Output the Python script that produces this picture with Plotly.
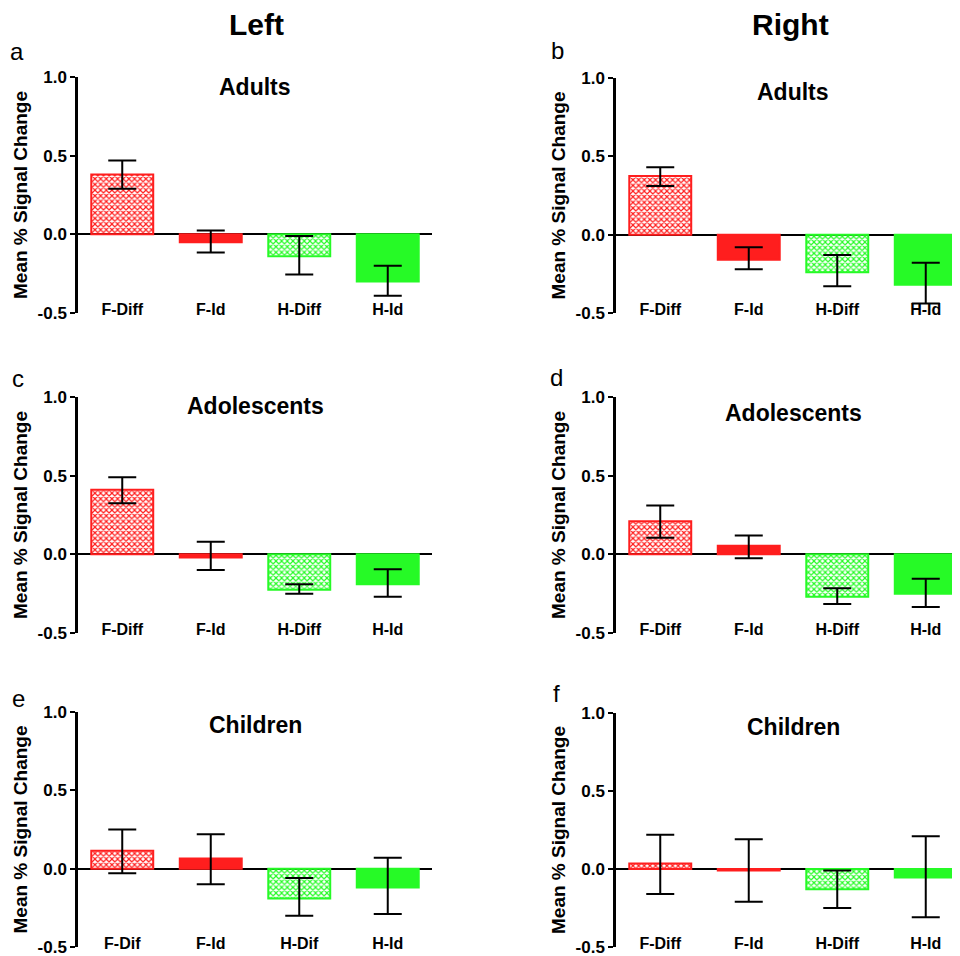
import plotly.graph_objects as go

# the page places the figure 8px in from the top-left corner of the window
OFF = 8
W, H = 960 - OFF, 956 - OFF

cats_std = ["F-Diff", "F-Id", "H-Diff", "H-Id"]
cats_child_left = ["F-Dif", "F-Id", "H-Dif", "H-Id"]

# means, error-bar upper bounds, error-bar lower bounds per panel
a_mean = [0.38, -0.05, -0.14, -0.30]
a_hi = [0.47, 0.025, -0.01, -0.20]
a_lo = [0.29, -0.115, -0.255, -0.39]

b_mean = [0.375, -0.16, -0.24, -0.32]
b_hi = [0.43, -0.08, -0.13, -0.18]
b_lo = [0.31, -0.22, -0.33, -0.44]

c_mean = [0.41, -0.02, -0.225, -0.19]
c_hi = [0.49, 0.08, -0.19, -0.095]
c_lo = [0.325, -0.10, -0.25, -0.27]

d_mean = [0.21, 0.055, -0.27, -0.25]
d_hi = [0.31, 0.12, -0.215, -0.155]
d_lo = [0.105, -0.025, -0.315, -0.335]

e_mean = [0.115, 0.065, -0.19, -0.12]
e_hi = [0.25, 0.22, -0.06, 0.07]
e_lo = [-0.03, -0.10, -0.30, -0.29]

f_mean = [0.035, -0.01, -0.13, -0.055]
f_hi = [0.22, 0.19, -0.01, 0.21]
f_lo = [-0.16, -0.21, -0.25, -0.31]

groups = ["Adults", "Adults", "Adolescents", "Adolescents", "Children", "Children"]
letters = ["a", "b", "c", "d", "e", "f"]
y_ticks = [-0.5, 0.0, 0.5, 1.0]
y_ticklabels = ["-0.5", "0.0", "0.5", "1.0"]

RED = "#ff1e1e"
GREEN = "#26fa26"
bar_colors = [RED, RED, GREEN, GREEN]
bar_shapes = ["x", "", "x", ""]

panels = [
    (cats_std, a_mean, a_hi, a_lo),
    (cats_std, b_mean, b_hi, b_lo),
    (cats_std, c_mean, c_hi, c_lo),
    (cats_std, d_mean, d_hi, d_lo),
    (cats_child_left, e_mean, e_hi, e_lo),
    (cats_std, f_mean, f_hi, f_lo),
]


def fx(px):
    return (px - OFF) / W


def fy(py):
    return 1 - (py - OFF) / H


# window-pixel layout (x0, x1, y_top, y_bottom)
px_boxes = [
    (78, 432, 77, 313),
    (616, 960, 78, 313),
    (78, 432, 397, 633),
    (616, 960, 397, 633),
    (78, 432, 712, 947),
    (616, 960, 713, 947),
]
title_y = [0.935, 0.91, 0.94, 0.90, 0.92, 0.91]
letter_pos = [(17, 52), (557, 51), (18, 379), (556, 377), (18, 698), (556, 693)]
FONT = "Liberation Sans"

fig = go.Figure()
for i, (cats, mean, hi, lo) in enumerate(panels):
    n = "" if i == 0 else str(i + 1)
    x0, x1, yt, yb = px_boxes[i]
    err_plus = [h - m for h, m in zip(hi, mean)]
    err_minus = [m - l for m, l in zip(mean, lo)]
    fig.add_trace(go.Bar(
        x=cats, y=mean, width=0.7,
        xaxis="x" + n, yaxis="y" + n,
        marker=dict(
            color=bar_colors,
            line=dict(color=bar_colors, width=2),
            pattern=dict(shape=bar_shapes, fgcolor=bar_colors, bgcolor="white",
                         fillmode="replace", size=4, solidity=0.5),
        ),
        error_y=dict(type="data", symmetric=False, array=err_plus, arrayminus=err_minus,
                     color="black", thickness=2, width=14),
        showlegend=False,
    ))
    span = (x1 - x0) / 88.5
    fig.layout["xaxis" + n] = dict(
        domain=[fx(x0), fx(x1)], anchor="y" + n, automargin=False,
        range=[-0.5, -0.5 + span], type="category",
        showline=False, ticks="", showgrid=False, zeroline=False,
        tickfont=dict(family=FONT, size=16, color="black", weight="bold"),
        ticklabelstandoff=-15, ticklabeloverflow="allow", fixedrange=True,
    )
    fig.layout["yaxis" + n] = dict(
        domain=[fy(yb), fy(yt)], anchor="x" + n, automargin=False,
        range=[-0.5, 1.0], tickvals=y_ticks, ticktext=y_ticklabels,
        showline=True, linecolor="black", linewidth=2.5,
        ticks="outside", ticklen=5, tickwidth=2, tickcolor="black",
        showgrid=False, zeroline=True, zerolinecolor="black", zerolinewidth=2,
        layer="above traces", ticklabeloverflow="allow",
        tickfont=dict(family=FONT, size=17, color="black", weight="bold"),
        title=dict(text="Mean % Signal Change", standoff=5,
                   font=dict(family=FONT, size=19, color="black", weight="bold")),
        fixedrange=True,
    )
    fig.add_annotation(
        x=1.5, y=title_y[i], xref="x" + n, yref="y" + n, text=groups[i],
        showarrow=False, xanchor="center", yanchor="middle",
        font=dict(family=FONT, size=23, color="black", weight="bold"),
    )
    lx, ly = letter_pos[i]
    fig.add_annotation(
        x=fx(lx), y=fy(ly), xref="paper", yref="paper", text=letters[i],
        showarrow=False, xanchor="center", yanchor="middle",
        font=dict(family=FONT, size=24, color="black"),
    )

for txt, px, py in [("Left", 256, 25), ("Right", 790, 24)]:
    fig.add_annotation(
        x=fx(px), y=fy(py), xref="paper", yref="paper", text=txt,
        showarrow=False, xanchor="center", yanchor="middle",
        font=dict(family=FONT, size=30, color="black", weight="bold"),
    )

fig.update_layout(
    width=W, height=H, margin=dict(l=0, r=0, t=0, b=0, autoexpand=False),
    paper_bgcolor="white", plot_bgcolor="white", bargap=0.3,
)
fig.write_html("out.html")
